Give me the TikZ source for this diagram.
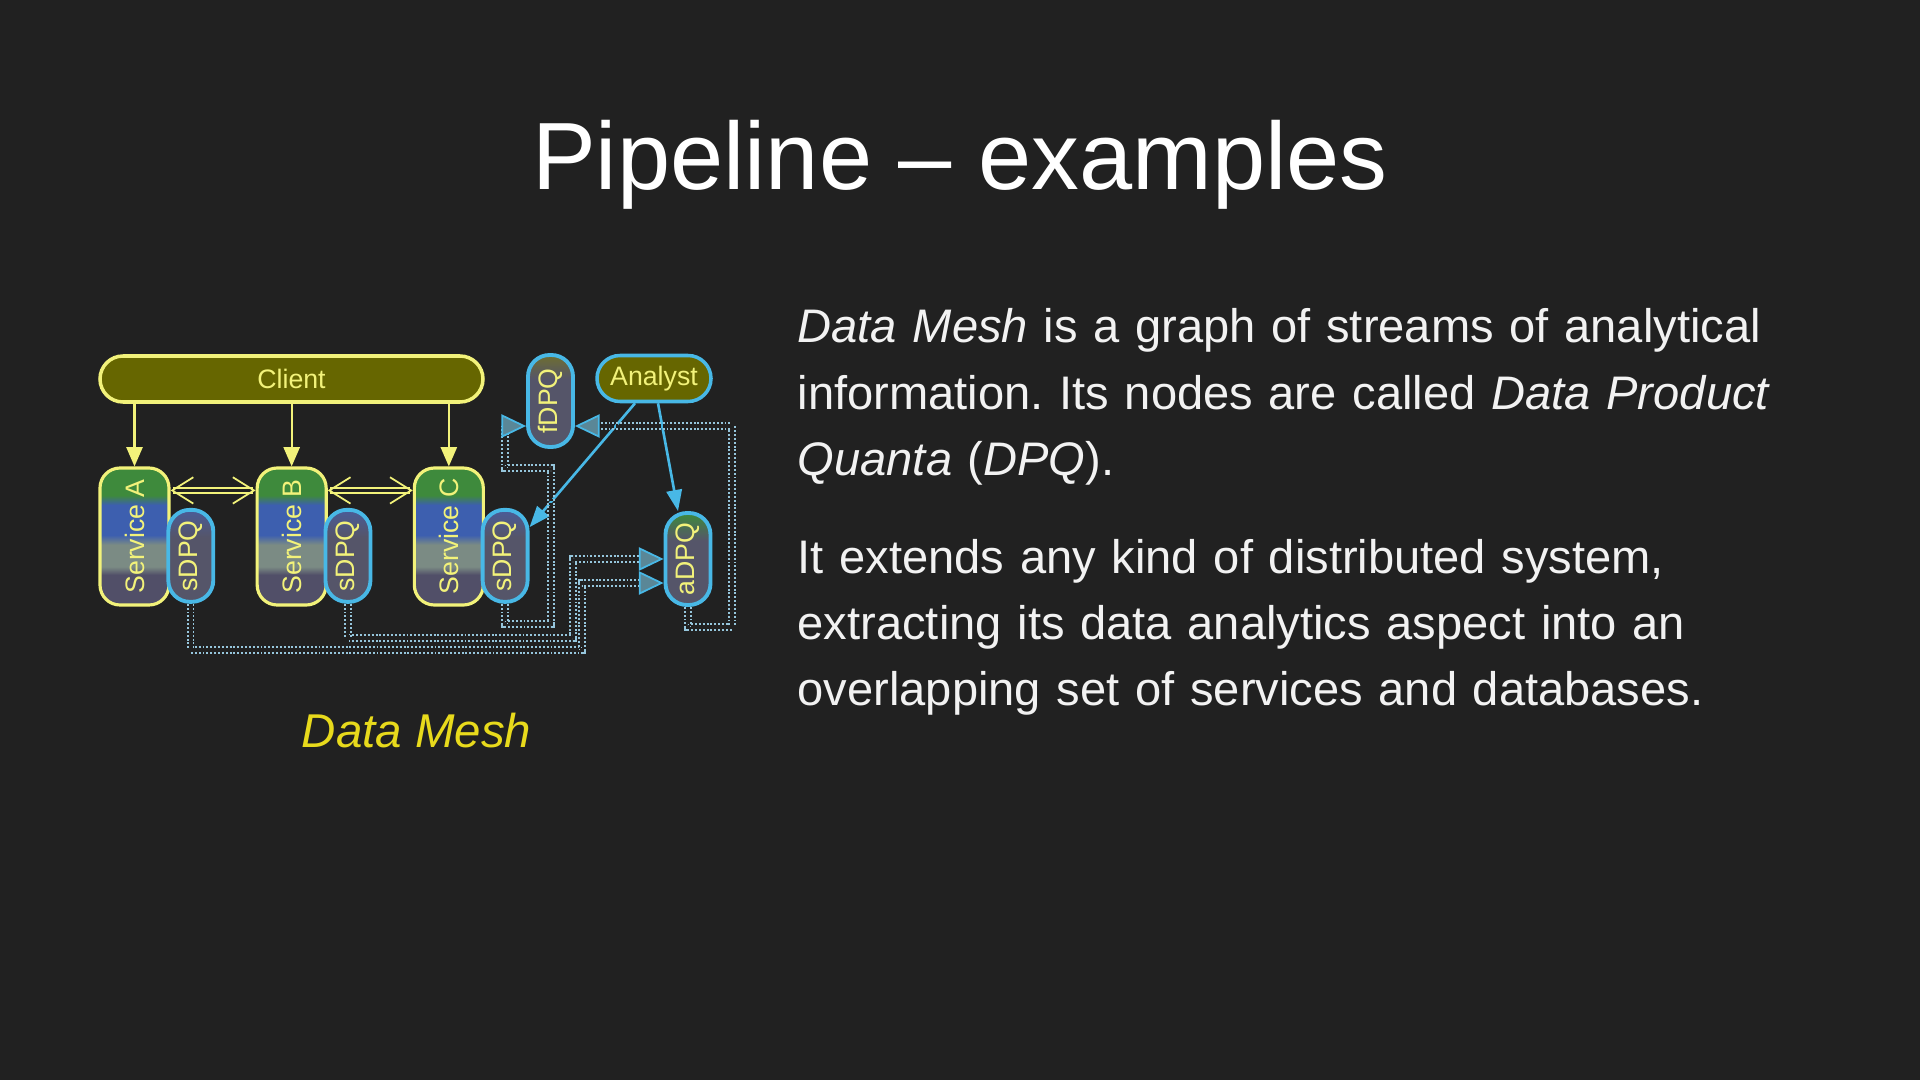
\documentclass[tikz,border=0pt]{standalone}
\usepackage{fontspec}
\setmainfont{Liberation Sans}
\usetikzlibrary{arrows.meta,positioning,calc}
\definecolor{slidebg}{HTML}{212121}
\definecolor{bodywhite}{HTML}{F2F2F2}
\definecolor{clientfill}{HTML}{666600}
\definecolor{paleyellow}{HTML}{F2F27A}
\definecolor{dpqblue}{HTML}{48B8E6}
\definecolor{meshdot}{HTML}{96C6DC}
\definecolor{tipfill}{HTML}{5A8797}
\definecolor{svcgreen}{HTML}{3E8A3C}
\definecolor{svcblue}{HTML}{3D5FAF}
\definecolor{svcgray}{HTML}{7B8B84}
\definecolor{svcdark}{HTML}{514F68}
\definecolor{dpqdark}{HTML}{555569}
\definecolor{dpqtop}{HTML}{4A5C98}
\definecolor{olivetop}{HTML}{6E6E30}
\definecolor{captionyellow}{HTML}{E8DA1C}
\pgfdeclareverticalshading{svcshade}{100bp}{color(0bp)=(svcdark); color(36bp)=(svcdark); color(39bp)=(svcgray); color(47bp)=(svcgray); color(50.5bp)=(svcblue); color(61.5bp)=(svcblue); color(65bp)=(svcgreen); color(100bp)=(svcgreen)}
\pgfdeclareverticalshading{sdpqshade}{100bp}{color(0bp)=(dpqdark); color(60bp)=(dpqdark); color(75bp)=(dpqtop); color(100bp)=(dpqtop)}
\pgfdeclareverticalshading{adpqshade}{100bp}{color(0bp)=(dpqdark); color(60bp)=(dpqdark); color(75bp)=(svcgreen); color(100bp)=(svcgreen)}
\pgfdeclareverticalshading{fdpqshade}{100bp}{color(0bp)=(dpqdark); color(62bp)=(dpqdark); color(75bp)=(olivetop); color(100bp)=(olivetop)}
\newcommand{\diagfont}{\fontsize{7.6}{9}\selectfont}
\tikzset{
  svcbox/.style={draw=paleyellow, line width=0.9pt, shading=svcshade, rounded corners=0.2cm, minimum width=0.69cm, minimum height=1.37cm, inner sep=0pt, text=paleyellow, font=\diagfont},
  dpqbox/.style={draw=dpqblue, line width=1.1pt, rounded corners=0.215cm, minimum width=0.45cm, minimum height=0.92cm, inner sep=0pt, text=paleyellow, font=\diagfont},
  actorbox/.style={fill=clientfill, line width=1pt, rounded corners=0.23cm, minimum height=0.46cm, inner sep=0pt, text=paleyellow, font=\diagfont},
  clientarrow/.style={-{Triangle[length=5.5pt,width=4.6pt]}, draw=paleyellow, fill=paleyellow, line width=0.6pt},
  syncarrow/.style={{Straight Barb[length=6pt,width=7.5pt,line width=0.5pt]}-{Straight Barb[length=6pt,width=7.5pt,line width=0.5pt]}, draw=paleyellow, double=slidebg, line width=0.45pt, double distance=1pt},
  queryarrow/.style={-{Triangle[length=6pt,width=4.4pt]}, draw=dpqblue, line width=0.75pt},
  meshflow/.style={draw=meshdot, double=slidebg, line width=0.55pt, double distance=1pt, dash pattern=on 0.55pt off 0.55pt, -{Triangle[length=7pt,width=6.6pt,fill=tipfill,color=dpqblue,line width=0.5pt]}},
  titletext/.style={text=white, font=\fontsize{27.2}{32}\selectfont, inner sep=0pt},
  bodytext/.style={text=bodywhite, font=\fontsize{13.4}{18.8}\selectfont\frenchspacing, align=left, text width=11.5cm, inner sep=0pt},
  captiontext/.style={text=captionyellow, font=\fontsize{13.5}{16}\selectfont, inner sep=0pt}
}
\begin{document}
\begin{tikzpicture}[node distance=0.85cm]
  \fill[slidebg] (0,0) rectangle (19.2,-10.8);
  \useasboundingbox (0,0) rectangle (19.2,-10.8);
  \node[titletext, anchor=base] (title) at (9.60,-1.90) {Pipeline – examples};
  % diagram
  \node[actorbox, draw=paleyellow, minimum width=3.83cm] (client) at (2.915,-3.79) {Client};
  \node[svcbox] (svcA) at (1.345,-5.365) {\rotatebox{90}{Service A}};
  \node[svcbox, right=of svcA] (svcB) {\rotatebox{90}{Service B}};
  \node[svcbox, right=of svcB] (svcC) {\rotatebox{90}{Service C}};
  \node[dpqbox, shading=sdpqshade, anchor=south west] (sdpqA) at ([xshift=-1.2pt,yshift=0.8pt]svcA.south east) {\rotatebox{90}{sDPQ}};
  \node[dpqbox, shading=sdpqshade, anchor=south west] (sdpqB) at ([xshift=-1.2pt,yshift=0.8pt]svcB.south east) {\rotatebox{90}{sDPQ}};
  \node[dpqbox, shading=sdpqshade, anchor=south west] (sdpqC) at ([xshift=-1.2pt,yshift=0.8pt]svcC.south east) {\rotatebox{90}{sDPQ}};
  \node[dpqbox, shading=fdpqshade] (fdpq) at (5.505,-4.01) {\rotatebox{90}{fDPQ}};
  \node[actorbox, draw=dpqblue, minimum width=1.14cm] (analyst) at (6.54,-3.785) {Analyst};
  \node[dpqbox, shading=adpqshade] (adpq) at (6.88,-5.59) {\rotatebox{90}{aDPQ}};
  \foreach \svc in {svcA,svcB,svcC}
    \draw[clientarrow] (client.south -| \svc.north) -- (\svc.north);
  \draw[syncarrow] ([yshift=-0.24cm]svcA.north east) -- ([yshift=-0.24cm]svcB.north west);
  \draw[syncarrow] ([yshift=-0.24cm]svcB.north east) -- ([yshift=-0.24cm]svcC.north west);
  \draw[queryarrow] ([xshift=-0.19cm]analyst.south) -- (sdpqC);
  \draw[queryarrow] ([xshift=0.04cm]analyst.south) -- ([xshift=-0.1cm]adpq.north);
  % mesh streams
  \draw[meshflow] (sdpqA.south) |- (5.82,-6.50) |- ([yshift=-0.24cm]adpq.west);
  \draw[meshflow] (sdpqB.south) |- (5.73,-6.38) |- (adpq.west);
  \draw[meshflow] (sdpqC.south) |- (5.51,-6.24) |- (5.05,-4.68) |- ([yshift=-0.25cm]fdpq.west);
  \draw[meshflow] (adpq.south) |- (7.32,-6.27) |- ([yshift=-0.25cm]fdpq.east);
  \node[captiontext, anchor=base] (caption) at (4.165,-7.47) {\textit{Data Mesh}};
  % text
  \node[bodytext, anchor=base west] (meshdef) at (7.97,-3.43) {\textit{Data Mesh} is a graph of streams of analytical\\ information. Its nodes are called \textit{Data Product}\\ \textit{Quanta} (\textit{DPQ}).};
  \node[bodytext, anchor=base west] (meshext) at (7.97,-5.73) {It extends any kind of distributed system,\\ extracting its data analytics aspect into an\\ overlapping set of services and databases.};
\end{tikzpicture}
\end{document}
